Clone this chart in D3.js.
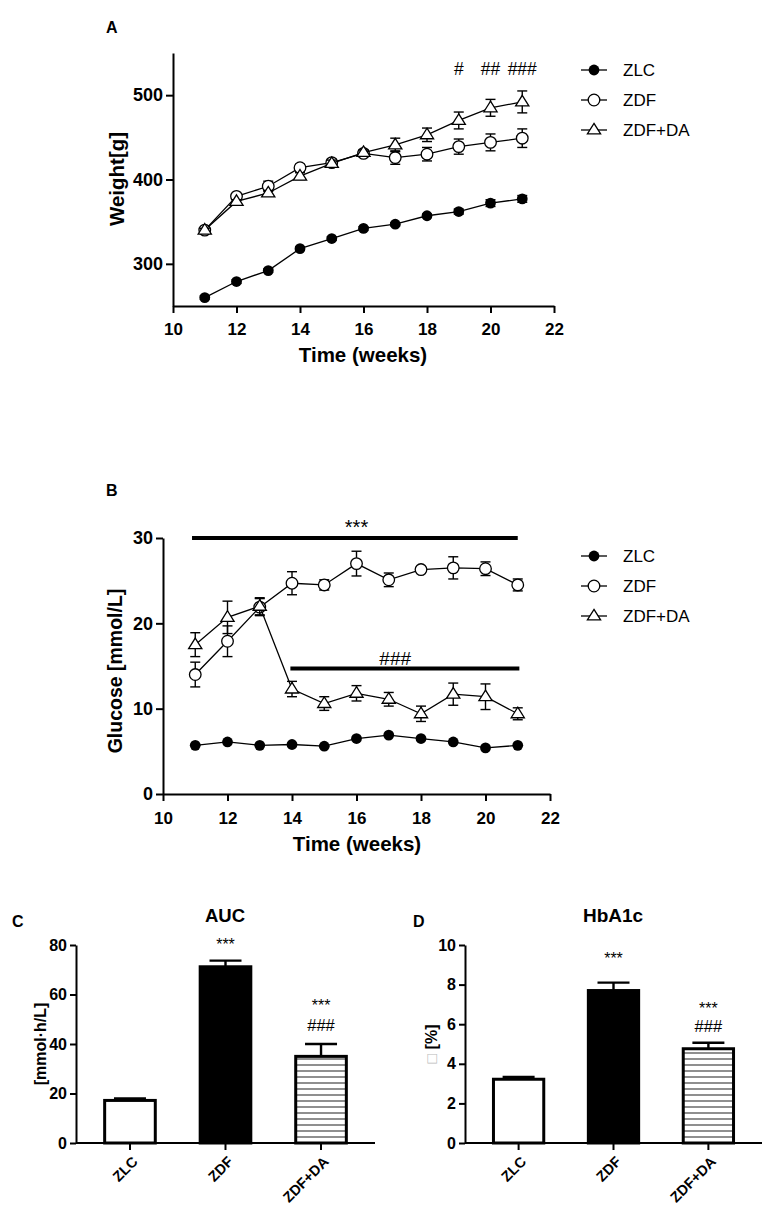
<!DOCTYPE html>
<html>
<head>
<meta charset="utf-8">
<script src="https://cdn.jsdelivr.net/npm/d3@7"></script>
<style>
  body { margin: 0; background: #fff; }
  svg { font-family: "Liberation Sans", Arial, sans-serif; }
</style>
</head>
<body>
<svg id="chart" width="765" height="1207"></svg>
<script>
// weeks on the x axis of panels A and B
const weeks = [11, 12, 13, 14, 15, 16, 17, 18, 19, 20, 21];

// panel A: body weight [g]
const weightZLC = [260, 279, 292, 318, 330, 342, 347, 357, 362, 372, 377];
const weightZLCErr = [2, 2, 2, 2, 2, 2, 2, 2, 3, 4, 4];
const weightZDF = [340, 380, 392, 414, 420, 431, 426, 430, 439, 444, 449];
const weightZDFErr = [2, 3, 6, 4, 4, 4, 8, 8, 9, 10, 11];
const weightDA = [340, 374, 384, 404, 419, 432, 441, 453, 470, 485, 492];
const weightDAErr = [2, 2, 3, 4, 4, 3, 8, 8, 10, 10, 13];
const weightHash = [[19, "#"], [20, "##"], [21, "###"]];

// panel B: glucose [mmol/L]
const glucoseZLC = [5.7, 6.1, 5.7, 5.8, 5.6, 6.5, 6.9, 6.5, 6.1, 5.4, 5.7];
const glucoseZDF = [14.0, 17.9, 21.9, 24.7, 24.5, 27.0, 25.1, 26.3, 26.5, 26.4, 24.5];
const glucoseZDFErr = [1.45, 1.8, 1.0, 1.35, 0.6, 1.45, 0.8, 0.3, 1.3, 0.8, 0.7];
const glucoseDA = [17.5, 20.7, 22.0, 12.3, 10.6, 11.8, 11.1, 9.4, 11.7, 11.4, 9.4];
const glucoseDAErr = [1.4, 1.9, 1.0, 0.9, 0.8, 0.9, 0.8, 0.9, 1.3, 1.5, 0.7];

// panels C and D
const groups = ["ZLC", "ZDF", "ZDF+DA"];
const aucValues = [17.2, 71.2, 35.0];
const aucErr = [0.8, 2.5, 5.0];
const hbValues = [3.22, 7.7, 4.76];
const hbErr = [0.12, 0.4, 0.3];
const barMarks = [[], ["***"], ["***", "###"]];

const svg = d3.select("#chart");
const bold = "bold";

function addMarker(g, shape, x, y) {
  if (shape === "dot") {
    g.append("circle").attr("cx", x).attr("cy", y).attr("r", 5.4).attr("fill", "#000");
  } else if (shape === "circle") {
    g.append("circle").attr("cx", x).attr("cy", y).attr("r", 5.8)
      .attr("fill", "#fff").attr("stroke", "#000").attr("stroke-width", 1.3);
  } else {
    const s = 6.6;
    g.append("path")
      .attr("d", `M${x},${y - s}L${x + s},${y + s * 0.6}L${x - s},${y + s * 0.6}Z`)
      .attr("fill", "#fff").attr("stroke", "#000").attr("stroke-width", 1.3);
  }
}

function drawSeries(g, x, y, vals, errs, shape) {
  const line = d3.line().x((d, i) => x(weeks[i])).y(d => y(d));
  g.append("path").datum(vals).attr("d", line)
    .attr("fill", "none").attr("stroke", "#000").attr("stroke-width", 1.3);
  if (errs) {
    vals.forEach((v, i) => {
      const cx = x(weeks[i]);
      const top = y(v + errs[i]), bot = y(v - errs[i]);
      g.append("line").attr("x1", cx).attr("x2", cx).attr("y1", top).attr("y2", bot)
        .attr("stroke", "#000").attr("stroke-width", 1.4);
      [top, bot].forEach(yy => g.append("line").attr("x1", cx - 5).attr("x2", cx + 5)
        .attr("y1", yy).attr("y2", yy).attr("stroke", "#000").attr("stroke-width", 1.4));
    });
  }
  vals.forEach((v, i) => addMarker(g, shape, x(weeks[i]), y(v)));
}

function styleAxis(sel, size) {
  sel.selectAll("path, line").attr("stroke", "#000").attr("stroke-width", 2);
  sel.selectAll("text").attr("fill", "#000").attr("font-size", size).attr("font-weight", bold)
    .attr("font-family", "Liberation Sans, Arial, sans-serif");
}

function drawLegend(x0, y0) {
  const g = svg.append("g");
  [["ZLC", "dot"], ["ZDF", "circle"], ["ZDF+DA", "tri"]].forEach(([name, shape], i) => {
    const yy = y0 + i * 30;
    g.append("line").attr("x1", x0).attr("x2", x0 + 26).attr("y1", yy).attr("y2", yy)
      .attr("stroke", "#000").attr("stroke-width", 1.3);
    addMarker(g, shape, x0 + 13, yy);
    g.append("text").attr("x", x0 + 42).attr("y", yy + 6).attr("font-size", 17).text(name);
  });
}

// ---------- Panel A ----------
{
  const x = d3.scaleLinear().domain([10, 22]).range([173, 554]);
  const y = d3.scaleLinear().domain([250, 550]).range([306, 53]);
  const g = svg.append("g");
  g.append("g").attr("transform", "translate(0,306)")
    .call(d3.axisBottom(x).tickValues([10, 12, 14, 16, 18, 20, 22]).tickSize(7).tickSizeOuter(0).tickPadding(10))
    .call(s => styleAxis(s, 17));
  g.append("g").attr("transform", "translate(173,0)")
    .call(d3.axisLeft(y).tickValues([300, 400, 500]).tickSize(7).tickSizeOuter(0).tickPadding(3))
    .call(s => styleAxis(s, 18));
  drawSeries(g, x, y, weightZLC, weightZLCErr, "dot");
  drawSeries(g, x, y, weightZDF, weightZDFErr, "circle");
  drawSeries(g, x, y, weightDA, weightDAErr, "tri");
  weightHash.forEach(([w, t]) => g.append("text").attr("x", x(w)).attr("y", 75)
    .attr("text-anchor", "middle").attr("font-size", 17.5).text(t));
  g.append("text").attr("x", 363).attr("y", 362).attr("text-anchor", "middle")
    .attr("font-size", 20.5).attr("font-weight", bold).text("Time (weeks)");
  g.append("text").attr("transform", "translate(124,179) rotate(-90)").attr("text-anchor", "middle")
    .attr("font-size", 20.5).attr("font-weight", bold).text("Weight[g]");
  g.append("text").attr("x", 106).attr("y", 33).attr("font-size", 16).attr("font-weight", bold).text("A");
  drawLegend(581, 70);
}

// ---------- Panel B ----------
{
  const x = d3.scaleLinear().domain([10, 22]).range([163, 550]);
  const y = d3.scaleLinear().domain([0, 30]).range([794, 538]);
  const g = svg.append("g");
  g.append("g").attr("transform", "translate(0,794)")
    .call(d3.axisBottom(x).tickValues([10, 12, 14, 16, 18, 20, 22]).tickSize(7).tickSizeOuter(0).tickPadding(11))
    .call(s => styleAxis(s, 17));
  g.append("g").attr("transform", "translate(163,0)")
    .call(d3.axisLeft(y).tickValues([0, 10, 20, 30]).tickSize(7).tickSizeOuter(0).tickPadding(3))
    .call(s => styleAxis(s, 18));
  drawSeries(g, x, y, glucoseZLC, null, "dot");
  drawSeries(g, x, y, glucoseZDF, glucoseZDFErr, "circle");
  drawSeries(g, x, y, glucoseDA, glucoseDAErr, "tri");
  // significance bars
  g.append("line").attr("x1", x(10.9)).attr("x2", x(21)).attr("y1", y(30)).attr("y2", y(30))
    .attr("stroke", "#000").attr("stroke-width", 4);
  g.append("text").attr("x", x(16)).attr("y", 534).attr("text-anchor", "middle").attr("font-size", 20).text("***");
  g.append("line").attr("x1", x(13.95)).attr("x2", x(21.05)).attr("y1", y(14.7)).attr("y2", y(14.7))
    .attr("stroke", "#000").attr("stroke-width", 4);
  g.append("text").attr("x", x(17.2)).attr("y", 665).attr("text-anchor", "middle").attr("font-size", 19).text("###");
  g.append("text").attr("x", 357).attr("y", 851).attr("text-anchor", "middle")
    .attr("font-size", 20.5).attr("font-weight", bold).text("Time (weeks)");
  g.append("text").attr("transform", "translate(122,671) rotate(-90)").attr("text-anchor", "middle")
    .attr("font-size", 19.5).attr("font-weight", bold).text("Glucose [mmol/L]");
  g.append("text").attr("x", 106).attr("y", 496).attr("font-size", 16).attr("font-weight", bold).text("B");
  drawLegend(581, 556);
}

// hatch pattern for ZDF+DA bars
const defs = svg.append("defs");
const pat = defs.append("pattern").attr("id", "hatch").attr("patternUnits", "userSpaceOnUse")
  .attr("width", 10).attr("height", 6);
pat.append("rect").attr("width", 10).attr("height", 6).attr("fill", "#fff");
pat.append("line").attr("x1", 0).attr("x2", 10).attr("y1", 3).attr("y2", 3)
  .attr("stroke", "#333").attr("stroke-width", 1.1);

function drawBars(opts) {
  const { x0, x1, vals, errs, max, ticks, title, titleX, titleSize, letter, letterX, ylabel, ylabelX } = opts;
  const g = svg.append("g");
  const x = d3.scaleBand().domain(groups).range([x0, x1]).paddingInner(0.47).paddingOuter(0.3);
  const y = d3.scaleLinear().domain([0, max]).range([1143, 945]);
  const fills = ["#fff", "#000", "url(#hatch)"];
  groups.forEach((gr, i) => {
    const bx = x(gr), bw = x.bandwidth(), cx = bx + bw / 2;
    const top = y(vals[i] + errs[i]);
    g.append("line").attr("x1", cx).attr("x2", cx).attr("y1", y(vals[i])).attr("y2", top)
      .attr("stroke", "#000").attr("stroke-width", 2.4);
    g.append("line").attr("x1", cx - 16).attr("x2", cx + 16).attr("y1", top).attr("y2", top)
      .attr("stroke", "#000").attr("stroke-width", 2.4);
    g.append("rect").attr("x", bx).attr("y", y(vals[i])).attr("width", bw)
      .attr("height", y(0) - y(vals[i])).attr("fill", fills[i])
      .attr("stroke", "#000").attr("stroke-width", 3);
  });
  g.append("g").attr("transform", "translate(0,1143)")
    .call(d3.axisBottom(x).tickSize(7).tickSizeOuter(0))
    .call(s => styleAxis(s, 14.5))
    .call(s => s.select(".domain").attr("d", `M${x0},0H${x1}`))
    .call(s => s.selectAll("text").attr("text-anchor", "end").attr("x", 0).attr("y", 0)
      .attr("dy", "0.35em").attr("transform", "translate(5,16) rotate(-45)"));
  g.append("g").attr("transform", `translate(${x0},0)`)
    .call(d3.axisLeft(y).tickValues(ticks).tickSize(6).tickSizeOuter(0).tickPadding(3))
    .call(s => styleAxis(s, 16));
  g.append("text").attr("x", titleX).attr("y", 922).attr("text-anchor", "middle")
    .attr("font-size", titleSize).attr("font-weight", bold).text(title);
  g.append("text").attr("x", letterX).attr("y", 927).attr("font-size", 16).attr("font-weight", bold).text(letter);
  g.append("text").attr("transform", `translate(${ylabelX},1044) rotate(-90)`).attr("text-anchor", "middle")
    .attr("font-size", 16).attr("font-weight", bold).call(ylabel);
  return { g, x, y };
}

function addStars(g, x, marks, yPos) {
  groups.forEach((gr, i) => {
    marks[i].forEach((m, k) => {
      g.append("text").attr("x", x(gr) + x.bandwidth() / 2).attr("y", yPos[i][k])
        .attr("text-anchor", "middle").attr("font-size", m === "***" ? 16 : 16.5).text(m);
    });
  });
}

// ---------- Panel C ----------
{
  const { g, x } = drawBars({
    x0: 76, x1: 375, vals: aucValues, errs: aucErr, max: 80, ticks: [0, 20, 40, 60, 80],
    title: "AUC", titleX: 225, titleSize: 18.5, letter: "C", letterX: 12, ylabelX: 46,
    ylabel: t => t.text("[mmol·h/L]")
  });
  addStars(g, x, barMarks, [[], [950], [1011, 1031]]);
}

// ---------- Panel D ----------
{
  const { g, x } = drawBars({
    x0: 465, x1: 762, vals: hbValues, errs: hbErr, max: 10, ticks: [0, 2, 4, 6, 8, 10],
    title: "HbA1c", titleX: 613, titleSize: 19, letter: "D", letterX: 413, ylabelX: 437,
    ylabel: t => {
      t.append("tspan").attr("fill", "#bbb").attr("font-weight", "normal").text("\u25A1");
      t.append("tspan").text(" [%]");
    }
  });
  addStars(g, x, barMarks, [[], [964], [1014, 1032]]);
}
</script>
</body>
</html>
